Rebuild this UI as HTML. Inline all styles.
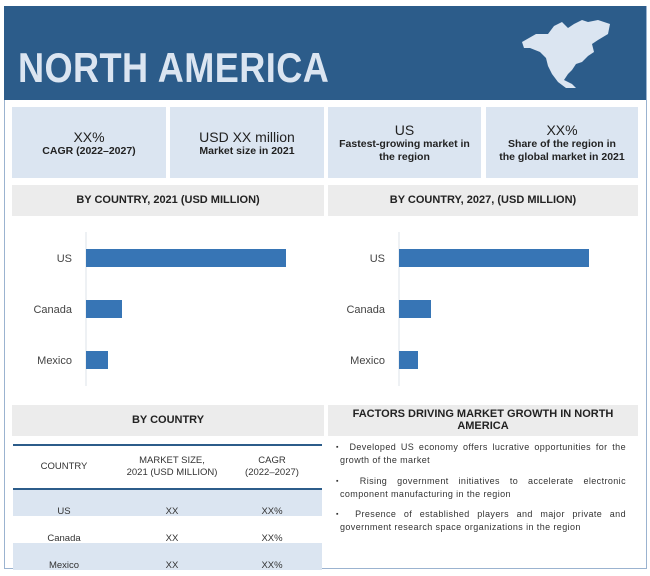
<!DOCTYPE html>
<html><head><meta charset="utf-8"><style>
body{margin:0;width:650px;height:576px;background:#fff;position:relative;font-family:"Liberation Sans",sans-serif;overflow:hidden}
.a{position:absolute}
.box{position:absolute;background:#dbe5f1;text-align:center;color:#222}
.gray{position:absolute;background:#ececec;text-align:center;font-family:"Liberation Sans Narrow","Liberation Sans",sans-serif;font-weight:bold;font-size:11px;color:#222}
.big{font-size:14px}
.sm{font-size:10.5px;font-family:"Liberation Sans Narrow","Liberation Sans",sans-serif;font-weight:bold;line-height:13px}
.td{position:absolute;font-size:9.5px;color:#333;text-align:center}
.bul{position:absolute;left:340px;width:286px;font-size:9px;color:#333;text-align:justify;letter-spacing:0.4px;line-height:13px}
.bul:before{content:"▪";position:absolute;left:-4px;font-size:7px}
</style></head><body>
<div class="a" style="left:4px;top:6px;width:641px;height:562px;border:1px solid #9bb3d0;border-top:none"></div>
<div class="a" style="left:4px;top:6px;width:642px;height:94px;background:#2c5c8a"></div>
<div class="a" style="left:18px;top:44px;font-size:42px;font-weight:bold;color:#dbe5f1;white-space:nowrap;transform:scaleX(0.86);transform-origin:left top;letter-spacing:0.5px">NORTH AMERICA</div>
<svg class="a" style="left:518px;top:18px" width="100" height="72" viewBox="0 0 100 72">
<path d="M4 24 L18 16 L30 16 L36 8 L44 4 L50 10 L56 6 L64 2 L70 4 L80 2 L92 6 L90 16 L80 22 L74 26 L76 34 L70 38 L64 44 L58 46 L54 52 L50 56 L46 62 L54 66 L58 70 L48 70 L40 64 L34 56 L30 48 L28 40 L22 34 L12 30 L6 30 Z" fill="#dbe5f1"/>
</svg>
<div class="box" style="left:12px;top:107px;width:154px;height:71px"><div class="big" style="margin-top:22px">XX%</div><div class="sm">CAGR (2022–2027)</div></div>
<div class="box" style="left:170px;top:107px;width:154px;height:71px"><div class="big" style="margin-top:22px">USD XX million</div><div class="sm">Market size in 2021</div></div>
<div class="box" style="left:328px;top:107px;width:153px;height:71px"><div class="big" style="margin-top:15px">US</div><div class="sm">Fastest-growing market in<br>the region</div></div>
<div class="box" style="left:486px;top:107px;width:152px;height:71px"><div class="big" style="margin-top:15px">XX%</div><div class="sm">Share of the region in<br>the global market in 2021</div></div>
<div class="gray" style="left:12px;top:185px;width:312px;height:31px;line-height:31px">BY COUNTRY, 2021 (USD MILLION)</div>
<div class="gray" style="left:328px;top:185px;width:310px;height:31px;line-height:31px">BY COUNTRY, 2027, (USD MILLION)</div>
<svg class="a" style="left:0;top:0" width="650" height="400" id="ch"></svg>
<div class="gray" style="left:12px;top:405px;width:312px;height:31px;line-height:31px">BY COUNTRY</div>
<div class="gray" style="left:328px;top:405px;width:310px;height:31px;padding-top:3px;box-sizing:border-box;line-height:12px">FACTORS DRIVING MARKET GROWTH IN NORTH<br>AMERICA</div>
<div class="a" style="left:13px;top:444px;width:309px;height:2px;background:#2c5c8a"></div>
<div class="a" style="left:13px;top:488px;width:309px;height:2px;background:#2c5c8a"></div>
<div class="a" style="left:13px;top:490px;width:309px;height:26px;background:#dbe5f1"></div>
<div class="a" style="left:13px;top:543px;width:309px;height:27px;background:#dbe5f1"></div>
<div class="td" style="left:14px;width:100px;top:461px">COUNTRY</div>
<div class="td" style="left:110px;width:124px;top:455px;line-height:12px">MARKET SIZE,<br>2021 (USD MILLION)</div>
<div class="td" style="left:222px;width:100px;top:455px;line-height:12px">CAGR<br>(2022–2027)</div>
<div class="td" style="left:14px;width:100px;top:506px">US</div>
<div class="td" style="left:122px;width:100px;top:506px">XX</div>
<div class="td" style="left:222px;width:100px;top:506px">XX%</div>
<div class="td" style="left:14px;width:100px;top:533px">Canada</div>
<div class="td" style="left:122px;width:100px;top:533px">XX</div>
<div class="td" style="left:222px;width:100px;top:533px">XX%</div>
<div class="td" style="left:14px;width:100px;top:560px">Mexico</div>
<div class="td" style="left:122px;width:100px;top:560px">XX</div>
<div class="td" style="left:222px;width:100px;top:560px">XX%</div>
<div class="bul" style="top:441px">&nbsp;&nbsp;Developed US economy offers lucrative opportunities for the growth of the market</div>
<div class="bul" style="top:475px">&nbsp;&nbsp;Rising government initiatives to accelerate electronic component manufacturing in the region</div>
<div class="bul" style="top:508px">&nbsp;&nbsp;Presence of established players and major private and government research space organizations in the region</div>
<script>
const categories=["US","Canada","Mexico"];
const values2021=[200,36,22];
const values2027=[190,32,19];
const svg=document.getElementById('ch');
const NS='http://www.w3.org/2000/svg';
function draw(x0,vals,name){
  const xs=v=>x0+v;
  const ys=i=>249+i*51;
  const ax=document.createElementNS(NS,'line');
  
  
  ax.setAttribute('x1',x0);ax.setAttribute('x2',x0);ax.setAttribute('y1',232);ax.setAttribute('y2',386);
  ax.setAttribute('stroke','#dde3ea');svg.appendChild(ax);
  categories.forEach((c,i)=>{
    const r=document.createElementNS(NS,'rect');
    
    
    r.setAttribute('x',x0);r.setAttribute('y',ys(i));r.setAttribute('width',xs(vals[i])-x0);r.setAttribute('height',18);
    r.setAttribute('fill','#3775b5');svg.appendChild(r);
    const t=document.createElementNS(NS,'text');
    
    
    t.setAttribute('x',x0-14);t.setAttribute('y',ys(i)+13);t.setAttribute('text-anchor','end');
    t.setAttribute('font-size','11');t.setAttribute('fill','#444');t.setAttribute('font-family','Liberation Sans, sans-serif');
    t.textContent=c;svg.appendChild(t);
  });
}
draw(86,values2021,'chart-2021');
draw(399,values2027,'chart-2027');
</script>
</body></html>
